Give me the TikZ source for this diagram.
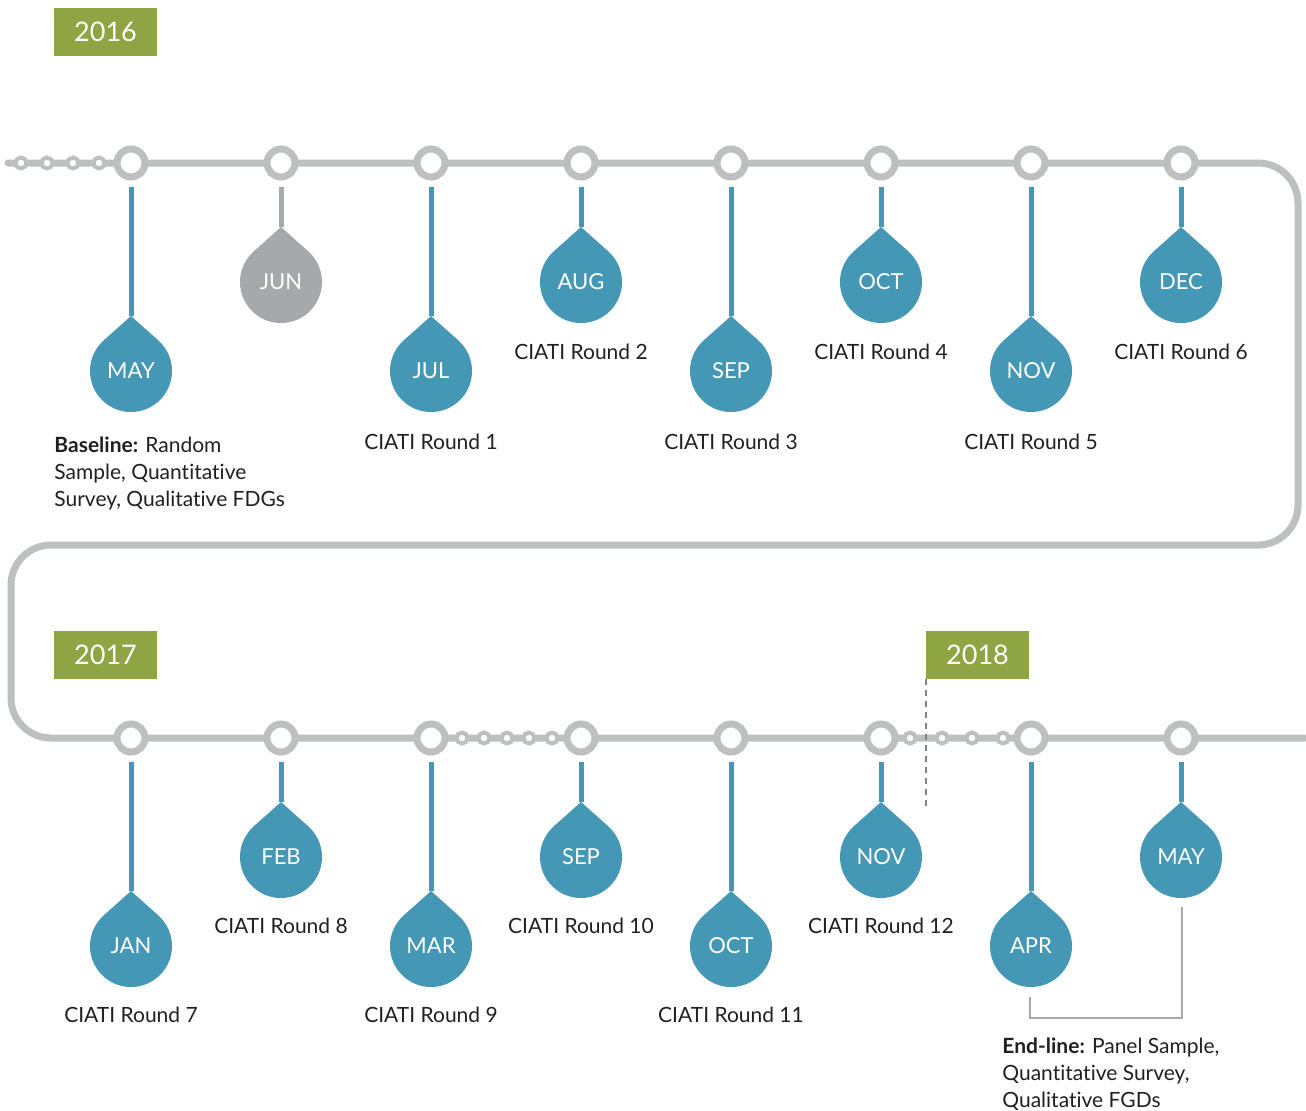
\documentclass[tikz,border=0pt]{standalone}
\usepackage{fontspec}
\setmainfont[Ligatures={NoCommon}]{Lato}
\definecolor{lgray}{HTML}{BDBFC1}
\definecolor{dgray}{HTML}{A6A8AB}
\definecolor{tblue}{HTML}{4598B5}
\definecolor{ygreen}{HTML}{8FA443}
\definecolor{dashgray}{HTML}{808285}
\definecolor{txt}{HTML}{231F20}
\begin{document}
\begin{tikzpicture}[x=0.5pt,y=-0.5pt,
  mainline/.style={draw=lgray,line width=3.5pt,rounded corners=20pt},
  ring/.style={circle,draw=lgray,line width=3.5pt,fill=white,minimum size=14pt,inner sep=0pt},
  sring/.style={circle,draw=lgray,line width=2pt,fill=white,minimum size=5.5pt,inner sep=0pt},
  droptxt/.style={circle,minimum size=41pt,inner sep=0pt,text=white,font=\fontsize{11}{13}\selectfont},
  lbl/.style={font=\fontsize{10.5}{13.5}\selectfont,text=txt},
  yearbox/.style={fill=ygreen,text=white,minimum width=51.5pt,minimum height=24pt,inner sep=0pt,font=\fontsize{13.5}{16}\selectfont},
  stem/.style={line width=2.5pt,shorten <=3pt}]
\useasboundingbox (0,0) rectangle (1306,1110);
% main line
\draw[mainline,line cap=round] (8,163) -- (1298,163) -- (1298,545) -- (11,545) -- (11,738) -- (1305,738);
% small rings
\foreach \x [count=\k] in {21,47,73,99} \node[sring] (sa\k) at (\x,163) {};
\foreach \x [count=\k] in {462,484,507,529,552,910,942,972,1003} \node[sring] (sb\k) at (\x,738) {};
% top row
\foreach \x/\m/\d/\c [count=\i] in {131/MAY/208/tblue,281/JUN/119/dgray,431/JUL/208/tblue,581/AUG/119/tblue,731/SEP/208/tblue,881/OCT/119/tblue,1031/NOV/208/tblue,1181/DEC/119/tblue}{
  \node[ring] (a\i) at (\x,163) {};
  \coordinate (ta\i) at (\x,163+\d-55);
  \draw[stem,draw=\c] (a\i.south) -- (ta\i);
  \fill[\c] (ta\i) -- (\x+27.3,163+\d-30.6) -- (\x-27.3,163+\d-30.6) -- cycle;
  \node[droptxt,fill=\c] (da\i) at (\x,163+\d) {\m};
}
% bottom row
\foreach \x/\m/\d [count=\i] in {131/JAN/208,281/FEB/119,431/MAR/208,581/SEP/119,731/OCT/208,881/NOV/119,1031/APR/208,1181/MAY/119}{
  \node[ring] (b\i) at (\x,738) {};
  \coordinate (tb\i) at (\x,738+\d-55);
  \draw[stem,draw=tblue] (b\i.south) -- (tb\i);
  \fill[tblue] (tb\i) -- (\x+27.3,738+\d-30.6) -- (\x-27.3,738+\d-30.6) -- cycle;
  \node[droptxt,fill=tblue] (db\i) at (\x,738+\d) {\m};
}
% year boxes
\node[yearbox] (y2016) at (105.5,32) {2016};
\node[yearbox] (y2017) at (105.5,655) {2017};
\node[yearbox] (y2018) at (977.5,655) {2018};
% dashed marker
\coordinate (dtop) at (926,679);
\coordinate (dbot) at (926,808);
\draw[dashgray,line width=1pt,dash pattern=on 3pt off 2.5pt] (dtop) -- (dbot);
% labels top
\node[lbl,anchor=north west,align=left,inner sep=0pt] (base) at (54,436) {\textbf{Baseline:} Random\\Sample, Quantitative\\Survey, Qualitative FDGs};
\node[lbl] (r1) at (431,442) {CIATI Round 1};
\node[lbl] (r2) at (581,352) {CIATI Round 2};
\node[lbl] (r3) at (731,442) {CIATI Round 3};
\node[lbl] (r4) at (881,352) {CIATI Round 4};
\node[lbl] (r5) at (1031,442) {CIATI Round 5};
\node[lbl] (r6) at (1181,352) {CIATI Round 6};
% labels bottom
\node[lbl] (r7) at (131,1015) {CIATI Round 7};
\node[lbl] (r8) at (281,926) {CIATI Round 8};
\node[lbl] (r9) at (431,1015) {CIATI Round 9};
\node[lbl] (r10) at (581,926) {CIATI Round 10};
\node[lbl] (r11) at (731,1015) {CIATI Round 11};
\node[lbl] (r12) at (881,926) {CIATI Round 12};
% end-line bracket
\coordinate (bl) at (1030,997);
\coordinate (bc1) at (1030,1018);
\coordinate (bc2) at (1182,1018);
\coordinate (br) at (1182,907);
\draw[dgray,line width=1pt] (bl) -- (bc1) -- (bc2) -- (br);
\node[lbl,anchor=north west,align=left,inner sep=0pt] (endl) at (1002,1037) {\textbf{End-line:} Panel Sample,\\Quantitative Survey,\\Qualitative FGDs};
\end{tikzpicture}
\end{document}
